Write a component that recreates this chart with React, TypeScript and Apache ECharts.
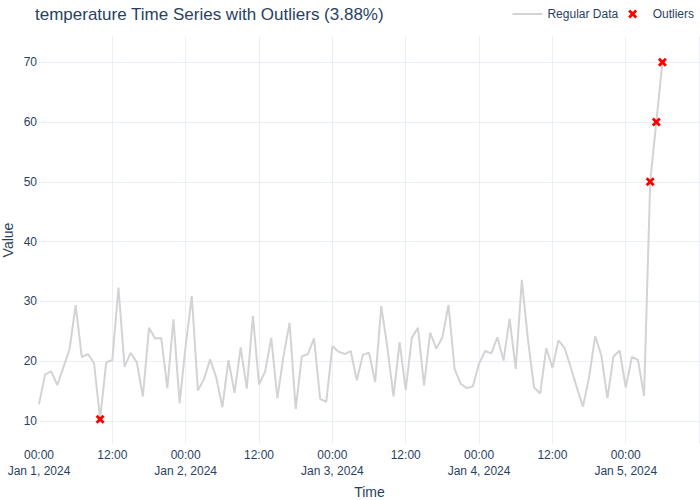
import React, { useEffect, useRef } from 'react';
import * as echarts from 'echarts';

// hourly readings, Jan 1 2024 00:00 onwards
const START = Date.UTC(2024, 0, 1);
const HOUR = 3600 * 1000;

const temperature = [
  12.8, 17.8, 18.3, 16.0, 19.0, 22.0, 29.4, 20.7, 21.2, 19.7,
  10.3, 19.8, 20.2, 32.3, 19.1, 21.4, 19.8, 14.1, 25.6, 23.8,
  23.9, 15.5, 27.0, 13.0, 22.6, 30.9, 15.1, 17.0, 20.3, 17.3,
  12.3, 20.2, 14.7, 22.3, 15.4, 27.6, 16.1, 18.3, 23.9, 13.8,
  20.8, 26.4, 12.0, 20.8, 21.2, 23.8, 13.7, 13.2, 22.5, 21.6,
  21.2, 21.7, 16.8, 21.1, 21.4, 16.5, 29.2, 22.3, 14.1, 23.2,
  15.2, 23.9, 25.6, 15.9, 24.8, 22.1, 24.0, 29.4, 18.7, 16.2,
  15.5, 15.8, 19.6, 21.7, 21.3, 24.0, 20.1, 27.1, 18.7, 33.6,
  23.6, 15.6, 14.6, 22.2, 18.9, 23.5, 22.2, 19.0, 15.6, 12.4,
  17.3, 24.2, 21.0, 13.8, 20.8, 21.8, 15.6, 20.7, 20.2, 14.2,
  50, 60, 70,
];

// indices flagged as outliers
const outlierIdx = [10, 100, 101, 102];

const xTickLabels = [
  '00:00\nJan 1, 2024', '12:00',
  '00:00\nJan 2, 2024', '12:00',
  '00:00\nJan 3, 2024', '12:00',
  '00:00\nJan 4, 2024', '12:00',
  '00:00\nJan 5, 2024',
];

const TEXT = '#2a3f5f';
const GRID = '#EBF0F8';
const FONT = '"Liberation Sans", Arial, sans-serif';
const X_MARK = 'path://M2.2,0L5,2.8L7.8,0L10,2.2L7.2,5L10,7.8L7.8,10L5,7.2L2.2,10L0,7.8L2.8,5L0,2.2Z';
const LINE_ICON = 'path://M0,0H30V2H0Z';

const App: React.FC = () => {
  const chartRef = useRef<HTMLDivElement>(null);

  useEffect(() => {
    if (!chartRef.current) return;
    const chart = echarts.init(chartRef.current, null, { renderer: 'svg' });

    const times = temperature.map((_, i) => START + i * HOUR);
    const lineData = temperature.map((v, i) => [times[i], v]);
    const outlierData = outlierIdx.map(i => [times[i], temperature[i]]);
    const pct = ((outlierIdx.length / temperature.length) * 100).toFixed(2);

    chart.setOption({
      animation: false,
      backgroundColor: '#fff',
      textStyle: { fontFamily: FONT },
      title: {
        text: `temperature Time Series with Outliers (${pct}%)`,
        left: 35,
        top: 6,
        padding: 0,
        textStyle: { fontFamily: FONT, fontSize: 17, fontWeight: 'normal', color: TEXT },
      },
      legend: {
        right: 6,
        top: 8,
        padding: 0,
        itemWidth: 30,
        itemHeight: 9,
        itemGap: 10,
        textStyle: { fontFamily: FONT, fontSize: 12, color: TEXT },
        data: [
          { name: 'Regular Data', icon: LINE_ICON },
          { name: 'Outliers' },
        ],
      },
      grid: {
        left: 39,
        right: 0,
        top: 36.7,
        bottom: 56.7,
        containLabel: false,
        outerBoundsMode: 'none',
      },
      xAxis: {
        type: 'value',
        min: START,
        max: START + 108.15 * HOUR,
        interval: 12 * HOUR,
        name: 'Time',
        nameLocation: 'middle',
        nameGap: 42,
        nameMoveOverlap: false,
        nameTextStyle: { fontFamily: FONT, fontSize: 14, color: TEXT },
        axisLine: { show: false },
        axisTick: { show: false },
        axisLabel: {
          margin: 4,
          lineHeight: 16,
          fontSize: 12,
          color: TEXT,
          fontFamily: FONT,
          showMaxLabel: false,
          hideOverlap: false,
          formatter: (v: number) => {
            const h = Math.round((v - START) / HOUR);
            if (h % 12 !== 0) return '';
            return xTickLabels[h / 12] ?? '';
          },
        },
        splitLine: { show: true, showMinLine: false, showMaxLine: false, lineStyle: { color: GRID, width: 1 } },
      },
      yAxis: {
        type: 'value',
        min: 6.27,
        max: 74.27,
        splitNumber: 6,
        name: 'Value',
        nameLocation: 'middle',
        nameGap: 24,
        nameMoveOverlap: false,
        nameTextStyle: { fontFamily: FONT, fontSize: 14, color: TEXT },
        axisLine: { show: false },
        axisTick: { show: false },
        axisLabel: {
          margin: 2,
          fontSize: 12,
          color: TEXT,
          fontFamily: FONT,
          showMinLabel: false,
          showMaxLabel: false,
        },
        splitLine: { show: true, showMinLine: false, showMaxLine: false, lineStyle: { color: GRID, width: 1 } },
      },
      series: [
        {
          name: 'Regular Data',
          type: 'line',
          data: lineData,
          symbol: 'none',
          lineStyle: { color: '#D3D3D3', width: 2 },
          itemStyle: { color: '#D3D3D3' },
          z: 2,
        },
        {
          name: 'Outliers',
          type: 'scatter',
          data: outlierData,
          symbol: X_MARK,
          symbolSize: 9,
          itemStyle: { color: '#FF0000', opacity: 1 },
          z: 3,
        },
      ],
    });

    return () => {
      chart.dispose();
    };
  }, []);

  return (
    <div
      ref={chartRef}
      style={{ position: 'absolute', left: 0, top: 0, width: 700, height: 500 }}
    />
  );
};

export default App;
